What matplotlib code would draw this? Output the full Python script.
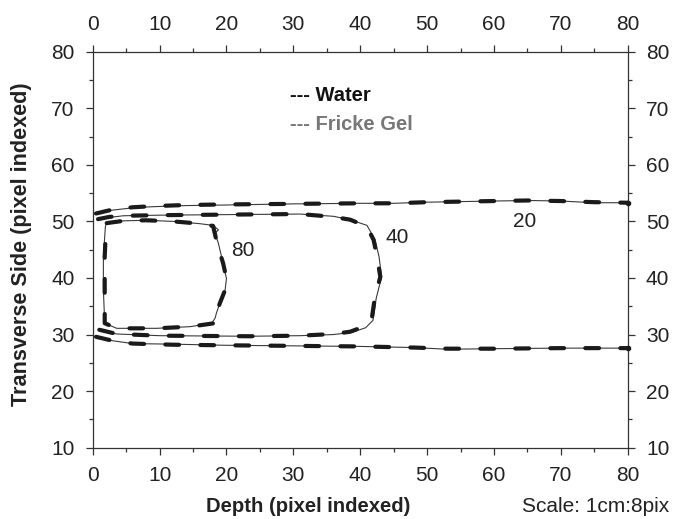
import matplotlib
matplotlib.use("Agg")
import matplotlib.pyplot as plt
from matplotlib.ticker import MultipleLocator

plt.rcParams['font.family'] = ['Liberation Sans', 'DejaVu Sans']

# Isodose contours (pixel indexed), water = thick dashed, Fricke gel = thin solid
# 20% contour, upper and lower branches (open at the left edge)
w20_up_x = [0.5, 3, 6, 9, 14, 20, 30, 40, 45, 50, 60, 65, 70, 75, 80]
w20_up_y = [51.4, 52.1, 52.5, 52.7, 52.9, 53.0, 53.1, 53.2, 53.2, 53.4, 53.6, 53.7, 53.6, 53.4, 53.3]
w20_lo_x = [0.5, 3, 6, 12, 20, 30, 40, 48, 53, 60, 70, 80]
w20_lo_y = [29.6, 28.9, 28.4, 28.2, 28.1, 28.0, 27.9, 27.7, 27.5, 27.5, 27.6, 27.6]

g20_up_x = [0.5, 3, 6, 9, 14, 20, 30, 40, 45, 50, 60, 65, 70, 75, 80]
g20_up_y = [51.3, 52.0, 52.4, 52.6, 52.8, 52.9, 53.1, 53.2, 53.2, 53.4, 53.6, 53.7, 53.6, 53.3, 53.3]
g20_lo_x = [0.5, 3, 6, 12, 20, 30, 40, 48, 53, 60, 70, 80]
g20_lo_y = [29.5, 28.9, 28.4, 28.3, 28.1, 28.0, 27.9, 27.7, 27.4, 27.5, 27.6, 27.6]

# 40% contour (open at the left edge)
w40_x = [0.8, 2.5, 4.6, 10, 20, 31, 36, 38.5, 41, 42, 42.5, 43, 42.2, 41.7, 40.5, 38.5, 36, 31, 23.5, 10, 3.6, 0.8]
w40_y = [50.4, 50.8, 51.0, 51.1, 51.2, 51.3, 50.8, 50.3, 49.1, 46.7, 43.8, 40.2, 36.7, 32.6, 31.4, 30.5, 30.1, 29.8, 29.7, 29.8, 30.1, 30.9]
g40_x = [0.8, 2.5, 4.6, 10, 20, 31, 36, 38.5, 41, 42.2, 42.8, 43.2, 42.4, 41.9, 40.8, 38.8, 36, 31, 23.5, 10, 3.6, 0.8]
g40_y = [50.3, 50.7, 51.0, 51.1, 51.2, 51.3, 50.9, 50.3, 49.3, 46.8, 43.8, 40.2, 36.5, 32.5, 31.2, 30.4, 30.0, 29.8, 29.7, 29.8, 30.1, 30.8]

# 80% contour (closed loop)
w80_x = [2.1, 4.6, 8, 12.1, 16, 18.0, 18.6, 19.5, 20.0, 19.8, 19.0, 18.5, 18.6, 18.2, 14.6, 9.6, 3.6, 1.8, 1.8, 1.8, 2.0, 2.1]
w80_y = [49.7, 50.1, 50.2, 50.0, 49.6, 49.2, 46.1, 42.6, 39.9, 37.9, 35.5, 33.8, 32.6, 32.0, 31.4, 31.1, 31.1, 32.0, 37.9, 43.8, 49.1, 49.7]
g80_x = [2.1, 4.6, 8, 12.1, 16, 18.0, 18.8, 18.3, 18.8, 19.5, 20.0, 19.8, 19.0, 18.5, 18.3, 17.8, 14.6, 9.6, 3.6, 1.8, 1.6, 1.6, 1.9, 2.1]
g80_y = [49.8, 50.1, 50.2, 50.0, 49.6, 49.3, 48.5, 47.9, 46.1, 42.6, 39.9, 37.9, 35.5, 33.8, 32.9, 32.0, 31.4, 31.1, 31.1, 32.0, 37.9, 43.8, 49.1, 49.8]

labels = ["80", "40", "20"]
label_x = [22.5, 45.5, 64.6]
label_y = [44.9, 47.2, 49.9]

fig = plt.figure(figsize=(6.74, 5.19), dpi=100)
ax = fig.add_axes([0.1375, 0.1374, 0.794, 0.763])

dash = dict(color='#1a1a1a', lw=3.0, linestyle=(0, (3.3, 5.1)), dash_capstyle='round', zorder=3)
thin = dict(color='#3a3a3a', lw=0.8, zorder=2)

ax.plot(g20_up_x, g20_up_y, **thin)
ax.plot(g20_lo_x, g20_lo_y, **thin)
ax.plot(g40_x, g40_y, **thin)
ax.plot(g80_x, g80_y, **thin)

ax.plot(w20_up_x, w20_up_y, **dash)
ax.plot(w20_lo_x, w20_lo_y, **dash)
ax.plot(w40_x, w40_y, **dash)
ax.plot(w80_x, w80_y, **dash)

# end points on the right edge
ax.plot([w20_up_x[-1], w20_lo_x[-1]], [w20_up_y[-1], w20_lo_y[-1]], 'o',
        color='#1a1a1a', ms=3, zorder=4, clip_on=False)

for t, lx, ly in zip(labels, label_x, label_y):
    ax.text(lx, ly, t, fontsize=15, ha='center', va='center', color='#222222')

ax.text(29.5, 72.3, "--- Water", fontsize=14.5, fontweight='bold', color='#111111', va='center')
ax.text(29.5, 67.2, "--- Fricke Gel", fontsize=14.5, fontweight='bold', color='#777777', va='center')

ax.set_xlim(0, 80)
ax.set_ylim(10, 80)
ax.xaxis.set_major_locator(MultipleLocator(10))
ax.xaxis.set_minor_locator(MultipleLocator(5))
ax.yaxis.set_major_locator(MultipleLocator(10))
ax.yaxis.set_minor_locator(MultipleLocator(5))
ax.tick_params(which='both', direction='out', top=True, right=True,
               labeltop=True, labelright=True, colors='#333333',
               labelcolor='#222222', labelsize=15, width=0.9, pad=8)
ax.tick_params(which='major', length=5)
ax.tick_params(which='minor', length=3)
for s in ax.spines.values():
    s.set_color('#333333')
    s.set_linewidth(0.9)

fig.text(308 / 674, 1 - 506 / 519, "Depth (pixel indexed)", fontsize=14.6,
         fontweight='bold', ha='center', va='center', color='#222222')
fig.text(669 / 674, 1 - 506 / 519, "Scale: 1cm:8pix", fontsize=15,
         ha='right', va='center', color='#222222')
fig.text(22 / 674, 1 - 244 / 519, "Transverse Side (pixel indexed)", fontsize=15.6,
         fontweight='bold', rotation=90, ha='center', va='center', color='#222222')

fig.savefig("out.png", dpi=100)
